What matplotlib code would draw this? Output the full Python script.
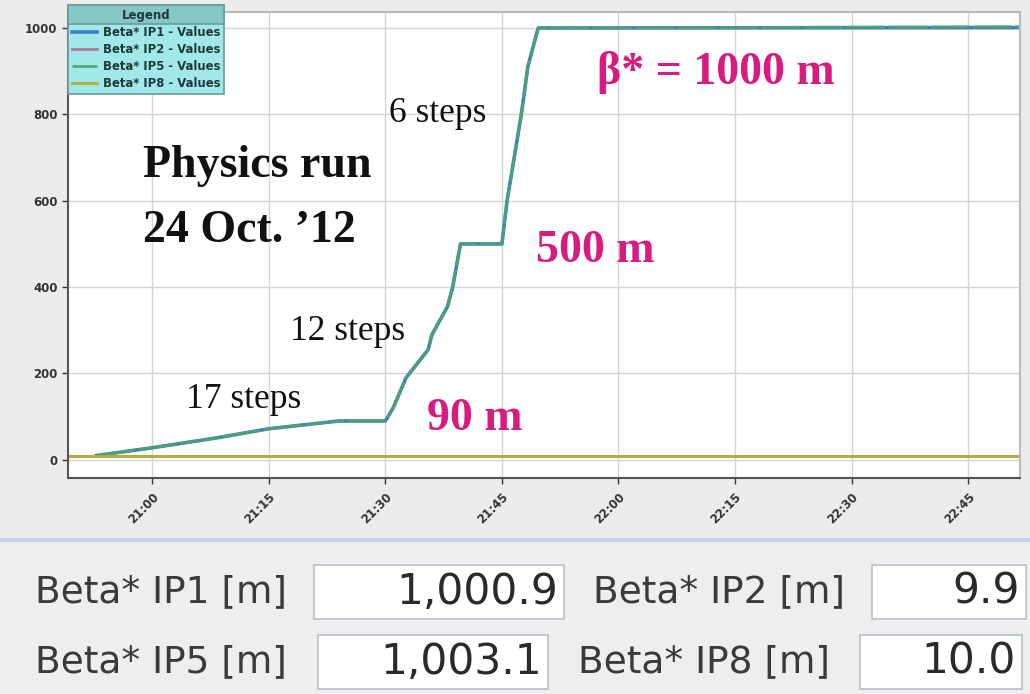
import matplotlib
matplotlib.use("Agg")
import matplotlib.pyplot as plt
import matplotlib.dates as mdates
from matplotlib.patches import Rectangle
import pandas as pd

# beta* ramp at IP1 / IP5 (time, metres)
ramp_times = ["20:52:50", "21:00:00", "21:08:00", "21:15:00", "21:20:00", "21:24:00",
              "21:30:00", "21:31:00", "21:32:40", "21:35:30", "21:36:00", "21:38:00",
              "21:38:40", "21:39:40", "21:45:00", "21:45:40", "21:47:30", "21:48:20",
              "21:49:40", "22:55:00"]
ip1_values = [10, 28, 50, 72, 82, 90, 90, 120, 190, 255, 290, 355, 400, 500, 500, 600,
              800, 910, 1000, 1000.9]
ip5_values = [10, 28, 50, 72, 82, 90, 90, 120, 190, 255, 290, 355, 400, 500, 500, 600,
              800, 910, 1000, 1003.1]
# IP2 / IP8 stay at injection optics
flat_times = ["20:40:00", "22:55:00"]
ip2_values = [9.9, 9.9]
ip8_values = [10.0, 10.0]

series_labels = ["Beta* IP1 - Values", "Beta* IP2 - Values",
                 "Beta* IP5 - Values", "Beta* IP8 - Values"]
readout_labels = ["Beta* IP1 [m]", "Beta* IP2 [m]", "Beta* IP5 [m]", "Beta* IP8 [m]"]
readout_values = [ip1_values[-1], ip2_values[-1], ip5_values[-1], ip8_values[-1]]

day = "2012-10-24 "
t_ramp = pd.to_datetime([day + t for t in ramp_times])
t_flat = pd.to_datetime([day + t for t in flat_times])

W, H = 1030, 694
fig = plt.figure(figsize=(W / 100, H / 100), dpi=100, facecolor="#ececec")

def fx(px):
    return px / W

def fy(py):
    return 1 - py / H

ax = fig.add_axes([fx(68), fy(478), fx(1020) - fx(68), fy(12) - fy(478)])
ax.set_facecolor("white")

l1, = ax.plot(t_ramp, ip1_values, color="#3d7fc4", lw=2.6, label=series_labels[0])
l5, = ax.plot(t_ramp, ip5_values, color="#4fa46e", lw=2.0, label=series_labels[2],
              alpha=0.92, dashes=(14, 1.2))
l2, = ax.plot(t_flat, ip2_values, color="#b07a95", lw=2.0, label=series_labels[1])
l8, = ax.plot(t_flat, ip8_values, color="#b5ad3a", lw=2.0, label=series_labels[3])

ax.set_xlim(pd.Timestamp(day + "20:49:10"), pd.Timestamp(day + "22:51:40"))
ax.set_ylim(-42, 1037)
ax.set_yticks([0, 200, 400, 600, 800, 1000])
ax.xaxis.set_major_locator(mdates.MinuteLocator(byminute=[0, 15, 30, 45]))
ax.xaxis.set_major_formatter(mdates.DateFormatter("%H:%M"))
ax.grid(True, color="#d4d4d4", lw=1)
ax.set_axisbelow(True)
ax.tick_params(axis="both", labelsize=8.5, colors="#333333", length=4, width=1)
ax.tick_params(axis="x", pad=5)
for lab in ax.get_xticklabels():
    lab.set_rotation(45)
    lab.set_ha("right")
    lab.set_rotation_mode("anchor")
    lab.set_fontweight("bold")
for lab in ax.get_yticklabels():
    lab.set_fontweight("bold")
for side in ["left", "bottom"]:
    ax.spines[side].set_color("#555555")
    ax.spines[side].set_linewidth(1.5)
for side in ["top", "right"]:
    ax.spines[side].set_color("#bbbbbb")
    ax.spines[side].set_linewidth(1.5)

leg = ax.legend(handles=[l1, l2, l5, l8], loc="upper left",
                bbox_to_anchor=(fx(68), fy(5)), bbox_transform=fig.transFigure,
                title="Legend", fontsize=8.4, title_fontsize=8.5, frameon=True,
                fancybox=False, facecolor="#a3e8e8", edgecolor="#6a9a9a",
                framealpha=1, borderpad=0.3, labelspacing=0.36, handlelength=2.2,
                handletextpad=0.5, borderaxespad=0)
leg.get_frame().set_linewidth(1.2)
for t in leg.get_texts():
    t.set_fontweight("bold")
    t.set_color("#1d3a3a")
leg.get_title().set_fontweight("bold")
leg.get_title().set_color("#1d3a3a")
leg.set_zorder(10)

serif = ["Liberation Serif", "DejaVu Serif"]
magenta = "#d81b7f"
big, small = 33, 25.5
ax.text(fx(143), fy(166), "Physics run", transform=fig.transFigure, fontsize=big,
        fontweight="bold", family=serif, va="center", ha="left", color="#111111")
ax.text(fx(143), fy(231), "24 Oct. \u201912", transform=fig.transFigure, fontsize=big,
        fontweight="bold", family=serif, va="center", ha="left", color="#111111")
ax.text(fx(597), fy(72), "\u03b2* = 1000 m", transform=fig.transFigure, fontsize=big,
        fontweight="bold", family=serif, va="center", ha="left", color=magenta)
ax.text(fx(536), fy(251), "500 m", transform=fig.transFigure, fontsize=big,
        fontweight="bold", family=serif, va="center", ha="left", color=magenta)
ax.text(fx(427), fy(419), "90 m", transform=fig.transFigure, fontsize=big,
        fontweight="bold", family=serif, va="center", ha="left", color=magenta)
ax.text(fx(389), fy(113), "6 steps", transform=fig.transFigure, fontsize=small,
        family=serif, va="center", ha="left", color="#111111")
ax.text(fx(290), fy(331), "12 steps", transform=fig.transFigure, fontsize=small,
        family=serif, va="center", ha="left", color="#111111")
ax.text(fx(186), fy(400), "17 steps", transform=fig.transFigure, fontsize=small,
        family=serif, va="center", ha="left", color="#111111")

# readout panel below the chart
fig.patches.append(Rectangle((0, 0), 1, fy(541), transform=fig.transFigure,
                             facecolor="#eeeeee", edgecolor="none", zorder=0))
fig.patches.append(Rectangle((0, fy(542)), 1, fy(538) - fy(542), transform=fig.transFigure,
                             facecolor="#c3d4e6", edgecolor="none", zorder=1))

# (label x, box left, box right, row centre y)
readout_layout = [(35, 314, 564, 592), (593, 872, 1026, 592),
                  (35, 318, 548, 662), (578, 860, 1022, 662)]
for (lx, bl, br, cy), lab, val in zip(readout_layout, readout_labels, readout_values):
    fig.text(fx(lx), fy(cy), lab, fontsize=27, family="DejaVu Sans",
             color="#3a3a3a", va="center", ha="left")
    fig.patches.append(Rectangle((fx(bl), fy(cy + 27)), fx(br) - fx(bl),
                                 fy(cy - 27) - fy(cy + 27), transform=fig.transFigure,
                                 facecolor="white", edgecolor="#b8c0c8", lw=1.2, zorder=2))
    fig.text(fx(br - 6), fy(cy), f"{val:,.1f}", fontsize=30.5, family="DejaVu Sans",
             color="#2a2a2a", va="center", ha="right", zorder=3)

# darker header band behind the legend title
fig.canvas.draw()
inv = fig.transFigure.inverted()
fb = leg.get_frame().get_window_extent()
tb = leg.get_title().get_window_extent()
(x0, y0), (x1, y1) = inv.transform([(fb.x0, tb.y0 - 2), (fb.x1, fb.y1)])
header = Rectangle((x0, y0), x1 - x0, y1 - y0, transform=fig.transFigure,
                   facecolor="#86c6c4", edgecolor="#6a9a9a", lw=1.2, zorder=11)
fig.add_artist(header)
leg.get_title().set_zorder(12)
fig.add_artist(leg.get_title())

fig.savefig("out.png", dpi=100, facecolor=fig.get_facecolor())
